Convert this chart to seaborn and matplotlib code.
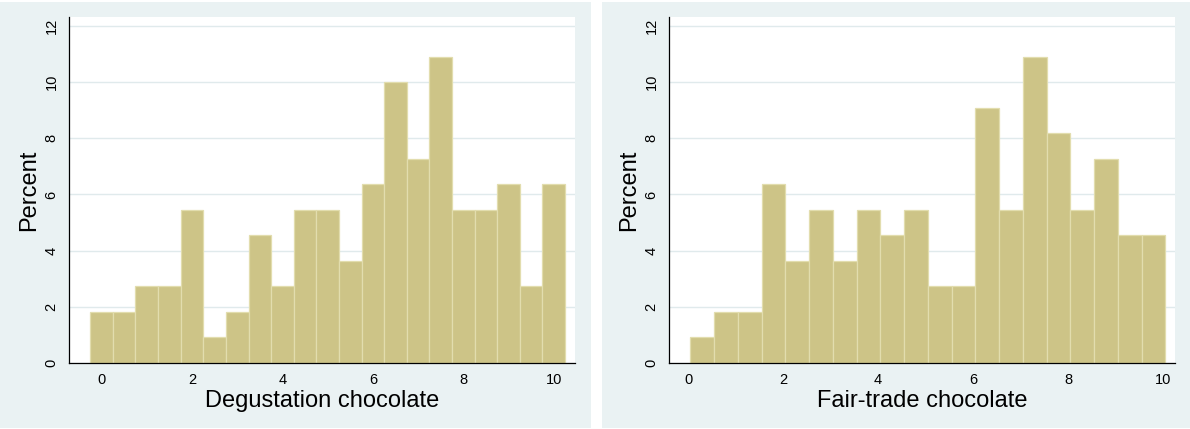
import matplotlib.pyplot as plt
import matplotlib.patches as mpatches
import numpy as np
import pandas as pd
import seaborn as sns

# histogram bins (counts, n = 110 each)
degust_edges_start = -0.25
degust_counts = [2, 2, 3, 3, 6, 1, 2, 5, 3, 6, 6, 4, 7, 11, 8, 12, 6, 6, 7, 3, 7]
fair_edges_start = 0.05
fair_counts = [1, 2, 2, 7, 4, 6, 4, 6, 5, 6, 3, 3, 10, 6, 12, 9, 6, 8, 5, 5]
bin_width = 0.5

xlabels = ["Degustation chocolate", "Fair-trade chocolate"]
yticks = [0, 2, 4, 6, 8, 10, 12]
xticks = [0, 2, 4, 6, 8, 10]

BAR = "#CDC487"
BAR_EDGE = "#E2DDAE"
PANEL = "#EAF2F3"
GRID = "#E0EAEC"

sns.set_theme(style="white")
plt.rcParams['font.family'] = ['Liberation Sans', 'DejaVu Sans']

W, H = 1190, 429
fig = plt.figure(figsize=(W / 100, H / 100), dpi=100)
fig.patch.set_facecolor("white")

# graph-region backgrounds (pixel boxes)
for x0, x1 in [(0, 591), (602, 1190)]:
    fig.patches.append(mpatches.Rectangle((x0 / W, 1 / H), (x1 - x0) / W, 426 / H,
                                          transform=fig.transFigure, facecolor=PANEL,
                                          edgecolor="none", zorder=-10))

panels = [
    (69, degust_edges_start, degust_counts, (-0.72, 10.47), xlabels[0]),
    (669, fair_edges_start, fair_counts, (-0.40, 10.25), xlabels[1]),
]

for left_px, start, counts, xlim, xlab in panels:
    ax = fig.add_axes([left_px / W, (H - 363) / H, 506 / W, 346 / H])
    ax.set_facecolor("white")
    edges = [start + bin_width * i for i in range(len(counts) + 1)]
    df = pd.DataFrame({"x": [e + bin_width / 2 for e in edges[:-1]], "n": counts})
    sns.histplot(data=df, x="x", weights="n", bins=edges, stat="percent", ax=ax,
                 color=BAR, alpha=1, edgecolor=BAR_EDGE, linewidth=0.9)
    ax.set_xlim(*xlim)
    ax.set_ylim(0, 12.32)
    ax.set_yticks(yticks)
    ax.set_xticks(xticks)
    ax.yaxis.grid(True, color=GRID, linewidth=1.0)
    ax.set_axisbelow(True)
    for s in ["top", "right"]:
        ax.spines[s].set_visible(False)
    for s in ["left", "bottom"]:
        ax.spines[s].set_color("black")
        ax.spines[s].set_linewidth(0.9)
    ax.tick_params(axis="both", direction="out", length=4.5, width=0.8, color="black",
                   labelsize=10.5, labelcolor="black", pad=3)
    ax.tick_params(axis="y", labelrotation=90)
    for lbl in ax.get_yticklabels():
        lbl.set_va("center")
    ax.set_xlabel(xlab, fontsize=17, color="black", labelpad=2)
    ax.set_ylabel("Percent", fontsize=17, color="black", labelpad=3)

fig.savefig("out.png", dpi=100, facecolor="white")
